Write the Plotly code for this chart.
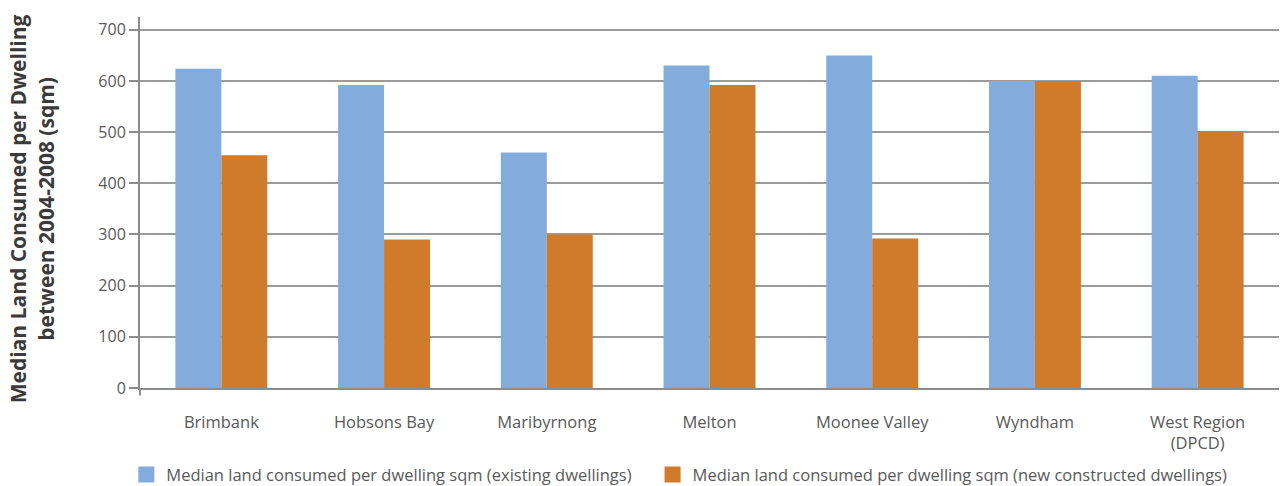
import plotly.graph_objects as go

regions = ["Brimbank", "Hobsons Bay", "Maribyrnong", "Melton", "Moonee Valley",
           "Wyndham", "West Region<br>(DPCD)"]
existing = [624, 592, 460, 630, 650, 600, 610]
new_built = [455, 290, 300, 592, 292, 600, 502]

name_existing = "Median land consumed per dwelling sqm (existing dwellings)"
name_new = "Median land consumed per dwelling sqm (new constructed dwellings)"
colors = ["#83abdc", "#d07a2b"]

FONT = "'Open Sans', Lato, sans-serif"
GRID = "#9b9b9b"
AXIS = "#8c8c8c"
TEXT = "#595959"

fig = go.Figure()
for vals, name, col in [(existing, name_existing, colors[0]), (new_built, name_new, colors[1])]:
    fig.add_trace(go.Bar(x=regions, y=vals, name=name, showlegend=False,
                         marker=dict(color=col, line=dict(width=0))))
# larger square swatches, one legend box per series
for name, col, lg in [(name_existing, colors[0], "legend"), (name_new, colors[1], "legend2")]:
    fig.add_trace(go.Scatter(x=[None], y=[None], mode="markers", name=name, legend=lg,
                             marker=dict(symbol="square", size=22, color=col)))

legend_common = dict(orientation="h", xanchor="left", yref="container", y=0.023,
                     yanchor="middle", font=dict(size=16.5, color=TEXT),
                     itemsizing="trace", bgcolor="rgba(0,0,0,0)")

fig.update_layout(
    width=1286, height=486,
    margin=dict(l=140, r=7, t=17, b=98, autoexpand=False),
    paper_bgcolor="white", plot_bgcolor="white",
    barmode="group", bargap=0.435, bargroupgap=0,
    font=dict(family=FONT, size=15, color=TEXT),
    showlegend=True,
    legend=dict(x=-0.012, **legend_common),
    legend2=dict(x=0.450, **legend_common),
    xaxis=dict(showline=True, linecolor=AXIS, linewidth=2,
               ticks="", tickfont=dict(size=16.5, color=TEXT),
               showgrid=False, ticklabelstandoff=18),
    yaxis=dict(range=[0, 725], tickvals=[0, 100, 200, 300, 400, 500, 600, 700],
               showgrid=True, gridcolor=GRID, gridwidth=2,
               showline=True, linecolor=AXIS, linewidth=2,
               ticks="outside", ticklen=9, tickcolor=AXIS, tickwidth=2,
               tickfont=dict(size=16, color=TEXT), zeroline=False),
)

fig.add_annotation(text="Median Land Consumed per Dwelling<br>between 2004-2008 (sqm)",
                   xref="paper", yref="paper", x=-0.095, y=0.484,
                   xanchor="center", yanchor="middle", textangle=-90, showarrow=False,
                   font=dict(size=21, color="#3a3a3a", family=FONT, weight="bold"))

# small downward extension of the value axis below the category axis
fig.add_shape(type="line", xref="x domain", yref="y domain",
              x0=0, x1=0, y0=0, y1=-0.02, line=dict(color=AXIS, width=2))

fig.write_html("out.html")
